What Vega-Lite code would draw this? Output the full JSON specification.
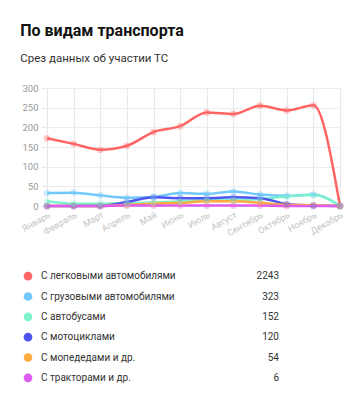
{
  "$schema": "https://vega.github.io/schema/vega-lite/v6.json",
  "background": "white",
  "padding": {"left": 20, "top": 22, "right": 10, "bottom": 5},
  "config": {
    "font": "Roboto",
    "view": {"stroke": null},
    "title": {"font": "Roboto"}
  },
  "title": {
    "text": "По видам транспорта",
    "subtitle": "Срез данных об участии ТС",
    "anchor": "start",
    "fontSize": 16,
    "fontWeight": "bold",
    "color": "#111111",
    "subtitleFontSize": 11.5,
    "subtitleColor": "#333333",
    "subtitlePadding": 14,
    "offset": 19
  },
  "data": {
    "values": [
      {"month": "Январь", "series": "С легковыми автомобилями", "ord": 1, "value": 172},
      {"month": "Февраль", "series": "С легковыми автомобилями", "ord": 1, "value": 158},
      {"month": "Март", "series": "С легковыми автомобилями", "ord": 1, "value": 143},
      {"month": "Апрель", "series": "С легковыми автомобилями", "ord": 1, "value": 153},
      {"month": "Май", "series": "С легковыми автомобилями", "ord": 1, "value": 188},
      {"month": "Июнь", "series": "С легковыми автомобилями", "ord": 1, "value": 203},
      {"month": "Июль", "series": "С легковыми автомобилями", "ord": 1, "value": 238},
      {"month": "Август", "series": "С легковыми автомобилями", "ord": 1, "value": 234},
      {"month": "Сентябрь", "series": "С легковыми автомобилями", "ord": 1, "value": 255},
      {"month": "Октябрь", "series": "С легковыми автомобилями", "ord": 1, "value": 243},
      {"month": "Ноябрь", "series": "С легковыми автомобилями", "ord": 1, "value": 256},
      {"month": "Декабрь", "series": "С легковыми автомобилями", "ord": 1, "value": 0},
      {"month": "Январь", "series": "С грузовыми автомобилями", "ord": 2, "value": 33},
      {"month": "Февраль", "series": "С грузовыми автомобилями", "ord": 2, "value": 34},
      {"month": "Март", "series": "С грузовыми автомобилями", "ord": 2, "value": 27},
      {"month": "Апрель", "series": "С грузовыми автомобилями", "ord": 2, "value": 21},
      {"month": "Май", "series": "С грузовыми автомобилями", "ord": 2, "value": 23},
      {"month": "Июнь", "series": "С грузовыми автомобилями", "ord": 2, "value": 33},
      {"month": "Июль", "series": "С грузовыми автомобилями", "ord": 2, "value": 31},
      {"month": "Август", "series": "С грузовыми автомобилями", "ord": 2, "value": 37},
      {"month": "Сентябрь", "series": "С грузовыми автомобилями", "ord": 2, "value": 29},
      {"month": "Октябрь", "series": "С грузовыми автомобилями", "ord": 2, "value": 26},
      {"month": "Ноябрь", "series": "С грузовыми автомобилями", "ord": 2, "value": 29},
      {"month": "Декабрь", "series": "С грузовыми автомобилями", "ord": 2, "value": 0},
      {"month": "Январь", "series": "С автобусами", "ord": 3, "value": 12},
      {"month": "Февраль", "series": "С автобусами", "ord": 3, "value": 6},
      {"month": "Март", "series": "С автобусами", "ord": 3, "value": 6},
      {"month": "Апрель", "series": "С автобусами", "ord": 3, "value": 7},
      {"month": "Май", "series": "С автобусами", "ord": 3, "value": 9},
      {"month": "Июнь", "series": "С автобусами", "ord": 3, "value": 12},
      {"month": "Июль", "series": "С автобусами", "ord": 3, "value": 15},
      {"month": "Август", "series": "С автобусами", "ord": 3, "value": 15},
      {"month": "Сентябрь", "series": "С автобусами", "ord": 3, "value": 18},
      {"month": "Октябрь", "series": "С автобусами", "ord": 3, "value": 24},
      {"month": "Ноябрь", "series": "С автобусами", "ord": 3, "value": 28},
      {"month": "Декабрь", "series": "С автобусами", "ord": 3, "value": 0},
      {"month": "Январь", "series": "С мотоциклами", "ord": 4, "value": 0},
      {"month": "Февраль", "series": "С мотоциклами", "ord": 4, "value": 0},
      {"month": "Март", "series": "С мотоциклами", "ord": 4, "value": 0},
      {"month": "Апрель", "series": "С мотоциклами", "ord": 4, "value": 10},
      {"month": "Май", "series": "С мотоциклами", "ord": 4, "value": 22},
      {"month": "Июнь", "series": "С мотоциклами", "ord": 4, "value": 20},
      {"month": "Июль", "series": "С мотоциклами", "ord": 4, "value": 20},
      {"month": "Август", "series": "С мотоциклами", "ord": 4, "value": 22},
      {"month": "Сентябрь", "series": "С мотоциклами", "ord": 4, "value": 20},
      {"month": "Октябрь", "series": "С мотоциклами", "ord": 4, "value": 5},
      {"month": "Ноябрь", "series": "С мотоциклами", "ord": 4, "value": 1},
      {"month": "Декабрь", "series": "С мотоциклами", "ord": 4, "value": 0},
      {"month": "Январь", "series": "С мопедедами и др.", "ord": 5, "value": 0},
      {"month": "Февраль", "series": "С мопедедами и др.", "ord": 5, "value": 0},
      {"month": "Март", "series": "С мопедедами и др.", "ord": 5, "value": 0},
      {"month": "Апрель", "series": "С мопедедами и др.", "ord": 5, "value": 3},
      {"month": "Май", "series": "С мопедедами и др.", "ord": 5, "value": 6},
      {"month": "Июнь", "series": "С мопедедами и др.", "ord": 5, "value": 8},
      {"month": "Июль", "series": "С мопедедами и др.", "ord": 5, "value": 12},
      {"month": "Август", "series": "С мопедедами и др.", "ord": 5, "value": 12},
      {"month": "Сентябрь", "series": "С мопедедами и др.", "ord": 5, "value": 8},
      {"month": "Октябрь", "series": "С мопедедами и др.", "ord": 5, "value": 3},
      {"month": "Ноябрь", "series": "С мопедедами и др.", "ord": 5, "value": 2},
      {"month": "Декабрь", "series": "С мопедедами и др.", "ord": 5, "value": 0},
      {"month": "Январь", "series": "С тракторами и др.", "ord": 6, "value": 0},
      {"month": "Февраль", "series": "С тракторами и др.", "ord": 6, "value": 0},
      {"month": "Март", "series": "С тракторами и др.", "ord": 6, "value": 0},
      {"month": "Апрель", "series": "С тракторами и др.", "ord": 6, "value": 1},
      {"month": "Май", "series": "С тракторами и др.", "ord": 6, "value": 1},
      {"month": "Июнь", "series": "С тракторами и др.", "ord": 6, "value": 1},
      {"month": "Июль", "series": "С тракторами и др.", "ord": 6, "value": 1},
      {"month": "Август", "series": "С тракторами и др.", "ord": 6, "value": 1},
      {"month": "Сентябрь", "series": "С тракторами и др.", "ord": 6, "value": 1},
      {"month": "Октябрь", "series": "С тракторами и др.", "ord": 6, "value": 0},
      {"month": "Ноябрь", "series": "С тракторами и др.", "ord": 6, "value": 0},
      {"month": "Декабрь", "series": "С тракторами и др.", "ord": 6, "value": 0}
    ]
  },
  "spacing": 28,
  "vconcat": [
    {
      "width": 293,
      "height": 118,
      "encoding": {
        "x": {
          "field": "month",
          "type": "ordinal",
          "sort": ["Январь", "Февраль", "Март", "Апрель", "Май", "Июнь", "Июль", "Август", "Сентябрь", "Октябрь", "Ноябрь", "Декабрь"],
          "scale": {"type": "point", "padding": 0},
          "axis": {
            "title": null,
            "labelAngle": -30,
            "labelAlign": "right",
            "labelBaseline": "top",
            "labelColor": "#c4c4c4",
            "labelFontSize": 9,
            "labelPadding": 4,
            "domain": false,
            "ticks": false,
            "grid": true,
            "gridColor": "#e8e8e8"
          }
        },
        "y": {
          "field": "value",
          "type": "quantitative",
          "scale": {"domain": [0, 300]},
          "axis": {
            "title": null,
            "values": [0, 50, 100, 150, 200, 250, 300],
            "labelColor": "#999999",
            "labelFontSize": 9.5,
            "labelPadding": 3,
            "domain": false,
            "tickColor": "#e8e8e8",
            "tickSize": 6,
            "gridColor": "#ececec"
          }
        },
        "color": {
          "field": "series",
          "type": "nominal",
          "scale": {
            "domain": ["С легковыми автомобилями", "С грузовыми автомобилями", "С автобусами", "С мотоциклами", "С мопедедами и др.", "С тракторами и др."],
            "range": ["#ff6464", "#72c8fa", "#7df2cc", "#5055f0", "#ffaa3c", "#e05cf0"]
          },
          "legend": null
        },
        "order": {"field": "ord", "sort": "descending"}
      },
      "layer": [
        {
          "mark": {"type": "line", "interpolate": "monotone", "strokeWidth": 2.5}
        },
        {
          "mark": {"type": "point", "filled": true, "size": 45, "opacity": 0.35}
        }
      ]
    },
    {
      "width": 293,
      "height": 122,
      "transform": [
        {"aggregate": [{"op": "sum", "field": "value", "as": "total"}], "groupby": ["series", "ord"]}
      ],
      "encoding": {
        "y": {
          "field": "series",
          "type": "nominal",
          "sort": {"field": "ord"},
          "scale": {"type": "band", "paddingInner": 0, "paddingOuter": 0},
          "axis": null
        }
      },
      "layer": [
        {
          "mark": {"type": "point", "filled": true, "size": 75, "opacity": 1},
          "encoding": {
            "x": {"value": -19},
            "color": {
              "field": "series",
              "type": "nominal",
              "scale": {
                "domain": ["С легковыми автомобилями", "С грузовыми автомобилями", "С автобусами", "С мотоциклами", "С мопедедами и др.", "С тракторами и др."],
                "range": ["#ff5c5c", "#5ccffa", "#7ff5cf", "#6f78f5", "#ffab40", "#e25cf0"]
              },
              "legend": null
            }
          }
        },
        {
          "mark": {"type": "text", "align": "left", "baseline": "middle", "fontSize": 10, "color": "#333333"},
          "encoding": {
            "x": {"value": -6},
            "text": {"field": "series"}
          }
        },
        {
          "mark": {"type": "text", "align": "right", "baseline": "middle", "fontSize": 10, "color": "#333333"},
          "encoding": {
            "x": {"value": 232},
            "text": {"field": "total", "type": "quantitative"}
          }
        }
      ]
    }
  ]
}
